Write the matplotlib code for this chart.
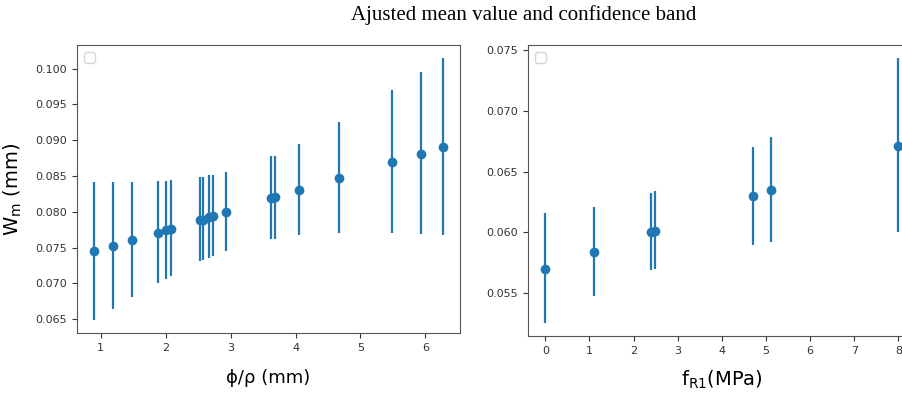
import numpy as np
import matplotlib.pyplot as plt

plt.rcParams['mathtext.fontset'] = 'dejavusans'

# left panel: phi/rho
phi_rho = [0.903, 1.189, 1.474, 1.878, 2.000, 2.087, 2.531, 2.571, 2.663, 2.730,
           2.923, 3.622, 3.679, 4.051, 4.673, 5.490, 5.934, 6.265]
wm_left = [0.07449, 0.07529, 0.07603, 0.07710, 0.07743, 0.07766, 0.07882, 0.07887, 0.07929, 0.07938,
           0.07994, 0.08194, 0.08203, 0.08301, 0.08478, 0.08692, 0.08813, 0.08902]
upper_left = [0.08418, 0.08420, 0.08420, 0.08427, 0.08427, 0.08441, 0.08487, 0.08487, 0.08511, 0.08520,
              0.08553, 0.08776, 0.08785, 0.08944, 0.09255, 0.09697, 0.09949, 0.10144]
lower_left = [0.06491, 0.06644, 0.06807, 0.07012, 0.07063, 0.07110, 0.07314, 0.07324, 0.07352, 0.07380,
              0.07449, 0.07622, 0.07622, 0.07678, 0.07710, 0.07701, 0.07687, 0.07678]

# right panel: fR1
fr1 = [0.0, 1.095, 2.402, 2.492, 4.705, 5.106, 8.0]
wm_right = [0.05698, 0.05842, 0.06004, 0.06015, 0.06296, 0.06348, 0.06712]
upper_right = [0.06156, 0.06213, 0.06326, 0.06337, 0.06701, 0.06787, 0.07434]
lower_right = [0.05255, 0.05475, 0.05690, 0.05701, 0.05899, 0.05919, 0.05999]


def band(ax, x, y, lo, hi):
    y = np.array(y)
    err = [y - np.array(lo), np.array(hi) - y]
    ax.errorbar(x, y, yerr=err, fmt='o', color='#1f77b4', ms=6, elinewidth=1.6, capsize=0)
    ax.legend(handles=[], loc='upper left')
    ax.tick_params(labelsize=8, colors='#333333')
    for s in ax.spines.values():
        s.set_color('#555555')


fig = plt.figure(figsize=(9.02, 3.96), dpi=100)
ax1 = fig.add_axes([0.0854, 0.159, 0.4246, 0.727])
ax2 = fig.add_axes([0.585, 0.1515, 0.4305, 0.7346])

band(ax1, phi_rho, wm_left, lower_left, upper_left)
band(ax2, fr1, wm_right, lower_right, upper_right)

ax1.set_xlabel(r'ϕ/ρ (mm)', fontsize=13, labelpad=12)
ax1.set_ylabel(r'W$_{\rm m}$ (mm)', fontsize=14, labelpad=8)
ax2.set_xlabel(r'f$_{\rm R1}$(MPa)', fontsize=14, labelpad=9)
ax2.set_xticks(range(9))

fig.text(0.581, 0.962, 'Ajusted mean value and confidence band',
         family='Liberation Serif', fontsize=15, ha='center', va='center')

fig.savefig('out.png', dpi=100)
